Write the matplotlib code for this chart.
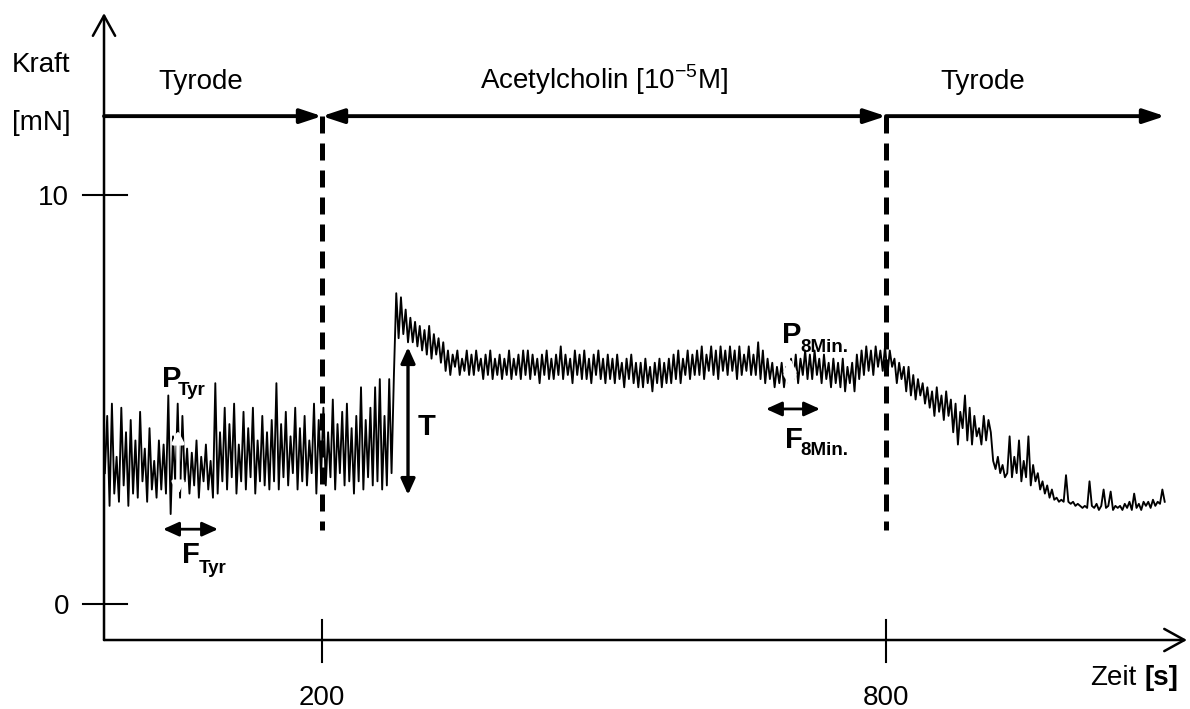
import numpy as np
import matplotlib
matplotlib.use("Agg")
import matplotlib.pyplot as plt

plt.rcParams['font.family'] = ['Liberation Sans', 'DejaVu Sans']
plt.rcParams['mathtext.fontset'] = 'custom'
plt.rcParams['mathtext.rm'] = 'Liberation Sans'
plt.rcParams['mathtext.bf'] = 'Liberation Sans:bold'

# Force trace [mN], sampled every 2.5 s
dt = 2.5
t_start_tyrode = -31.0
t_start_ach = 269.0
t_start_wash = 779.0

force_tyrode = [
    3.2, 4.6, 2.4, 4.9, 2.7, 3.6, 2.5, 4.8, 2.9, 4.2, 2.4, 4.5,
    2.7, 4.0, 2.6, 4.7, 3.0, 3.8, 2.5, 4.3, 2.8, 3.5, 2.6, 4.0,
    2.8, 3.9, 2.7, 5.1, 2.2, 4.1, 2.9, 4.9, 2.6, 4.6, 3.0, 3.8,
    2.7, 3.7, 2.9, 4.0, 2.6, 3.6, 3.0, 3.9, 2.8, 3.5, 2.6, 5.4,
    2.7, 4.2, 3.0, 4.8, 2.8, 4.4, 3.1, 4.9, 2.7, 3.9, 3.0, 4.7,
    2.8, 4.3, 3.1, 4.8, 2.7, 4.0, 3.0, 4.6, 2.9, 4.2, 2.8, 4.5,
    3.0, 5.4, 2.8, 4.4, 3.1, 4.7, 2.9, 4.1, 3.2, 4.8, 2.8, 4.3,
    3.0, 4.6, 2.9, 4.0, 3.2, 4.9, 2.7, 4.5, 3.1, 4.8, 2.9, 4.2,
    3.1, 5.0, 2.8, 4.4, 3.2, 4.7, 2.9, 4.9, 3.0, 4.3, 2.7, 4.6,
    3.0, 5.3, 2.8, 4.5, 3.1, 4.8, 2.9, 5.3, 3.0, 5.5, 2.8, 4.6,
]

force_ach = [
    2.9, 5.5, 3.2, 5.6, 7.6, 6.5, 7.5, 6.6, 7.2, 6.4, 7.0, 6.4,
    6.9, 6.3, 6.8, 6.2, 6.7, 6.1, 6.8, 6.0, 6.6, 6.1, 6.5, 5.9,
    6.4, 5.7, 6.2, 5.6, 6.1, 5.8, 6.2, 5.6, 6.0, 5.7, 6.2, 5.6,
    6.1, 5.6, 6.2, 5.7, 6.0, 5.5, 6.1, 5.6, 6.2, 5.5, 6.0, 5.6,
    6.1, 5.5, 6.0, 5.6, 6.2, 5.5, 6.0, 5.6, 6.1, 5.5, 6.2, 5.6,
    6.2, 5.5, 6.1, 5.6, 6.0, 5.4, 6.1, 5.6, 6.2, 5.5, 6.0, 5.5,
    6.1, 5.6, 6.3, 5.5, 6.1, 5.6, 6.0, 5.4, 6.2, 5.6, 6.1, 5.5,
    6.2, 5.5, 6.0, 5.4, 6.1, 5.6, 6.2, 5.5, 6.0, 5.4, 6.1, 5.5,
    6.0, 5.4, 6.1, 5.5, 5.9, 5.3, 6.0, 5.5, 6.1, 5.4, 5.9, 5.3,
    5.9, 5.3, 6.0, 5.4, 5.8, 5.2, 5.9, 5.4, 6.0, 5.3, 5.9, 5.4,
    6.0, 5.4, 6.1, 5.5, 6.2, 5.4, 6.0, 5.6, 6.2, 5.5, 6.1, 5.6,
    6.2, 5.6, 6.3, 5.5, 6.1, 5.7, 6.3, 5.6, 6.2, 5.5, 6.3, 5.7,
    6.2, 5.6, 6.3, 5.7, 6.2, 5.5, 6.3, 5.6, 6.1, 5.7, 6.3, 5.6,
    6.1, 5.6, 6.4, 5.5, 6.2, 5.4, 6.0, 5.5, 5.9, 5.3, 5.8, 5.4,
    5.9, 5.3, 5.8, 5.4, 6.0, 5.5, 6.1, 5.4, 6.0, 5.6, 6.2, 5.5,
    6.1, 5.5, 6.2, 5.6, 6.0, 5.4, 6.1, 5.5, 5.9, 5.3, 6.0, 5.4,
    5.9, 5.3, 6.0, 5.2, 5.8, 5.4, 5.9, 5.2, 6.1, 5.5, 6.2, 5.6,
]

force_wash = [
    6.3, 5.7, 6.2, 5.6, 6.3, 5.8, 6.2, 5.7, 6.3, 5.6, 6.2, 5.8,
    6.0, 5.4, 5.9, 5.5, 5.8, 5.2, 5.8, 5.1, 5.6, 5.0, 5.5, 5.1,
    5.4, 4.9, 5.3, 4.8, 5.2, 4.6, 5.3, 4.7, 5.1, 4.5, 5.2, 4.6,
    5.0, 4.2, 4.9, 3.9, 4.7, 4.3, 5.1, 4.0, 4.8, 3.9, 4.6, 4.1,
    4.3, 3.9, 4.6, 4.0, 4.5, 4.2, 3.5, 3.3, 3.6, 3.2, 3.4, 3.1,
    3.2, 4.1, 3.1, 3.6, 3.2, 4.0, 3.0, 3.5, 3.1, 4.1, 2.9, 3.4,
    3.0, 3.2, 2.8, 3.0, 2.7, 2.9, 2.6, 2.8, 2.55, 2.6, 2.5, 2.55,
    2.5, 3.15, 2.5, 2.45, 2.5, 2.4, 2.45, 2.4, 2.35, 2.4, 2.35, 3.0,
    2.4, 2.35, 2.45, 2.3, 2.4, 2.8, 2.35, 2.4, 2.75, 2.3, 2.4, 2.35,
    2.4, 2.3, 2.45, 2.35, 2.5, 2.3, 2.7, 2.35, 2.45, 2.3, 2.5, 2.4,
    2.5, 2.35, 2.55, 2.4, 2.5, 2.45, 2.8, 2.5,
]

# phase boundaries [s] and labels
phase_changes = [200, 800]
phase_labels = ["Tyrode", "Acetylcholin [10$^{\\mathregular{-5}}$M]", "Tyrode"]
x_ticks = [200, 800]
y_ticks = [0, 10]

t_tyrode = t_start_tyrode + dt * np.arange(len(force_tyrode))
t_ach = t_start_ach + dt * np.arange(len(force_ach))
t_wash = t_start_wash + dt * np.arange(len(force_wash))
time = np.concatenate([t_tyrode, t_ach, t_wash])
force = np.concatenate([force_tyrode, force_ach, force_wash])

fig = plt.figure(figsize=(11.9, 7.09), dpi=100)
ax = fig.add_axes([0, 0, 1, 1])
ax.set_xlim(-142.55, 1123.4)
ax.set_ylim(-2.567, 14.77)
ax.axis('off')

x0, y0 = -31.9, -0.88   # where the drawn axes cross
y_phase = 11.93          # height of the phase arrows


def arrow(start, end, style, lw, color='black', z=3):
    ax.annotate('', xy=end, xytext=start,
                arrowprops=dict(arrowstyle=style, lw=lw, color=color,
                                shrinkA=0, shrinkB=0),
                zorder=z)


# axes with open arrow heads
arrow((x0, y0), (x0, 14.45), '->,head_length=1.45,head_width=0.8', 1.8)
arrow((x0, y0), (1120.2, y0), '->,head_length=1.45,head_width=0.8', 1.8)

for yt in y_ticks:
    ax.plot([-54.3, -7.45], [yt, yt], color='black', lw=1.5)
    ax.text(-69.0, yt - 0.25, str(yt), ha='right', va='baseline', fontsize=20)
for xt in x_ticks:
    ax.plot([xt, xt], [-0.39, -1.42], color='black', lw=1.5)
    ax.text(xt, -2.47, str(xt), ha='center', va='baseline', fontsize=20)

ax.text(-129.8, 13.0, "Kraft", ha='left', va='baseline', fontsize=20)
ax.text(-129.8, 11.59, "[mN]", ha='left', va='baseline', fontsize=20)
ax.text(1017.0, -1.98, "Zeit", ha='left', va='baseline', fontsize=20)
ax.text(1075.5, -1.98, "[s]", ha='left', va='baseline', fontsize=20,
        fontweight='bold')

# phase arrows and dashed boundaries
head = ',head_length=1.3,head_width=0.43'
arrow((x0, y_phase), (phase_changes[0], y_phase), '-|>' + head, 2.8)
arrow((phase_changes[0], y_phase), (phase_changes[1], y_phase), '<|-|>' + head, 2.8)
arrow((phase_changes[1], y_phase), (1096.8, y_phase), '-|>' + head, 2.8)
for xc in phase_changes:
    ax.plot([xc, xc], [y_phase, 1.81], color='black', lw=3.6,
            dashes=(3.4, 2.0), zorder=2)

label_x = [71.3, 500.0, 903.2]
for lx, lab in zip(label_x, phase_labels):
    ax.text(lx, 12.6, lab, ha='center', va='baseline', fontsize=20)

# force trace
ax.plot(time, force, color='black', lw=1.35, zorder=2)

# amplitude markers (white) drawn over the trace
wh = '<|-|>,head_length=0.7,head_width=0.35'
arrow((46.8, 4.25), (46.8, 2.67), wh, 2.5, color='white', z=4)
arrow((697.9, 6.01), (697.9, 5.28), wh, 2.5, color='white', z=4)

# tension and frequency markers
bh = '<|-|>,head_length=0.95,head_width=0.43'
arrow((291.5, 2.67), (291.5, 6.28), bh, 2.4)
arrow((30.9, 1.83), (89.4, 1.83), bh, 2.0)
arrow((672.3, 4.77), (729.8, 4.77), bh, 2.0)


# bold labels with subscripts
def label(x, y, main, sub, xs, ys):
    ax.text(x, y, main, ha='left', va='baseline', fontsize=21, fontweight='bold')
    if sub:
        ax.text(xs, ys, sub, ha='left', va='baseline', fontsize=13.5,
                fontweight='bold')


label(29.8, 5.31, "P", "Tyr", 46.8, 5.11)
label(302.1, 4.13, "T", None, 0, 0)
label(689.4, 6.38, "P", "8Min.", 708.5, 6.16)
label(692.6, 3.81, "F", "8Min.", 708.5, 3.64)
label(51.1, 1.0, "F", "Tyr", 69.2, 0.76)

plt.savefig('out.png', dpi=100)
